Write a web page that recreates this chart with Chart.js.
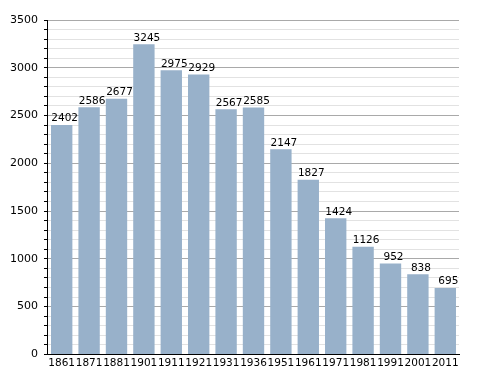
<!DOCTYPE html>
<html>
<head>
<meta charset="utf-8">
<script src="https://cdn.jsdelivr.net/npm/chart.js@4"></script>
<style>
  html, body { margin: 0; padding: 0; background: #fff; }
  #wrap { width: 488px; height: 373px; }
</style>
</head>
<body>
<div id="wrap"><canvas id="c" width="488" height="373"></canvas></div>
<script>
const years = ['1861', '1871', '1881', '1901', '1911', '1921', '1931', '1936', '1951', '1961', '1971', '1981', '1991', '2001', '2011'];
const population = [2402, 2586, 2677, 3245, 2975, 2929, 2567, 2585, 2147, 1827, 1424, 1126, 952, 838, 695];

const COLORS = {
  bar: '#98B1CA',
  gridMajor: '#A9A9A9',
  gridMinor: '#E2E2E2',
  text: '#000000'
};

// value labels above each bar
const valueLabels = {
  id: 'valueLabels',
  afterDatasetsDraw(chart) {
    const ctx = chart.ctx;
    const meta = chart.getDatasetMeta(0);
    ctx.save();
    ctx.font = '10.5px "DejaVu Sans"';
    ctx.fillStyle = COLORS.text;
    ctx.textAlign = 'center';
    ctx.textBaseline = 'bottom';
    meta.data.forEach((bar, i) => {
      ctx.fillText(String(population[i]), bar.x + 3, bar.y - 1);
    });
    ctx.restore();
  }
};

new Chart(document.getElementById('c'), {
  type: 'bar',
  data: {
    labels: years,
    datasets: [{
      data: population,
      backgroundColor: COLORS.bar,
      borderWidth: 0,
      barPercentage: 0.78,
      categoryPercentage: 1
    }]
  },
  options: {
    responsive: false,
    animation: false,
    layout: { padding: { top: 20, right: 29, left: 4, bottom: 0 } },
    plugins: {
      legend: { display: false },
      tooltip: { enabled: false }
    },
    scales: {
      x: {
        grid: { display: true, color: 'rgba(0,0,0,0)', drawTicks: false },
        border: { color: '#000', width: 1 },
        ticks: {
          color: COLORS.text,
          font: { family: 'DejaVu Sans', size: 10.5 },
          padding: 3,
          maxRotation: 0,
          autoSkip: false
        }
      },
      y: {
        min: 0,
        max: 3500,
        border: { color: '#000', width: 1 },
        grid: {
          color: c => (c.tick && c.tick.value % 500 === 0) ? COLORS.gridMajor : COLORS.gridMinor,
          tickColor: '#000',
          tickLength: 4
        },
        ticks: {
          stepSize: 100,
          autoSkip: false,
          color: COLORS.text,
          font: { family: 'DejaVu Sans', size: 11 },
          padding: 6,
          callback: v => (v % 500 === 0 ? v : '')
        }
      }
    }
  },
  plugins: [valueLabels]
});
</script>
</body>
</html>
